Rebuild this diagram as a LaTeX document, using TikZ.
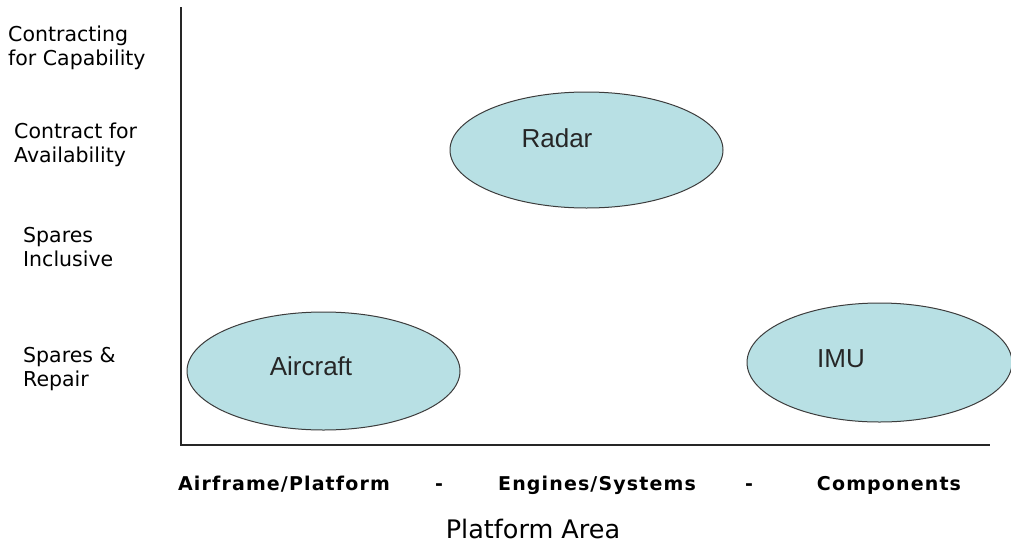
\documentclass[tikz,border=0pt]{standalone}
\usepackage{fontspec}
\setmainfont{DejaVu Sans}
\newfontfamily\ellfont{Liberation Sans}
\newfontfamily\axbold[LetterSpace=6]{DejaVu Sans Bold}
\usetikzlibrary{shapes.geometric}
\definecolor{ellfill}{RGB}{184,224,228}
\definecolor{ellline}{RGB}{60,60,60}
\tikzset{
  levellabel/.style={anchor=north west, inner sep=0pt, align=left, font=\fontsize{20.5}{24}\selectfont},
  areabox/.style={ellipse, draw=ellline, line width=1pt, fill=ellfill, inner sep=0pt},
  areatext/.style={font=\ellfont\fontsize{26}{28}\selectfont, inner sep=0pt, text=black!85},
  axistext/.style={font=\axbold\fontsize{19}{22}\selectfont, anchor=base, inner sep=0pt},
  axisline/.style={line width=2.8pt, black!85}
}
\begin{document}
\begin{tikzpicture}[x=1pt,y=-1pt]
\useasboundingbox[fill=white] (0,0) rectangle (1011,546);
% axes
\coordinate (top) at (181,7);
\coordinate (origin) at (181,445);
\coordinate (right) at (990,445);
\draw[axisline] (top) -- (origin) -- (right);
% level labels
\node[levellabel] (l1) at (8,26) {Contracting\\for Capability};
\node[levellabel] (l2) at (14,123) {Contract for\\Availability};
\node[levellabel] (l3) at (23,227) {Spares\\Inclusive};
\node[levellabel] (l4) at (23,347) {Spares \&\\Repair};
% ellipses
\node[areabox, minimum width=273pt, minimum height=116pt] (radar) at (586.5,150) {};
\node[areatext] (radartxt) at (557,138) {Radar};
\node[areabox, minimum width=273pt, minimum height=118pt] (aircraft) at (323.5,371) {};
\node[areatext] (aircrafttxt) at (311,366) {Aircraft};
\node[areabox, minimum width=265pt, minimum height=119pt] (imu) at (879.5,362.5) {};
\node[areatext] (imutxt) at (841,359) {IMU};
% axis categories
\node[axistext] (c1) at (284,490) {Airframe/Platform};
\node[axistext] (d1) at (439,490) {-};
\node[axistext] (c2) at (597,490) {Engines/Systems};
\node[axistext] (d2) at (749,490) {-};
\node[axistext] (c3) at (889,490) {Components};
\node[font=\fontsize{25.5}{28}\selectfont, anchor=base, inner sep=0pt] (xtitle) at (533,538) {Platform Area};
\end{tikzpicture}
\end{document}
